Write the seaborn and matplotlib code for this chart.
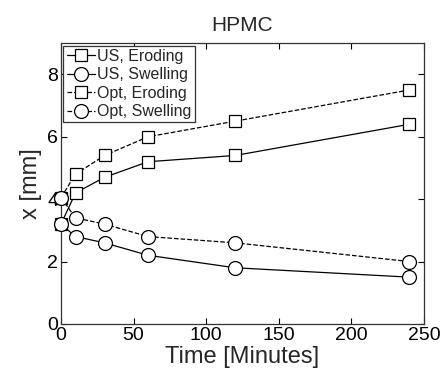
import matplotlib
matplotlib.use("Agg")
import matplotlib.pyplot as plt
import seaborn as sns

# data
time_min = [0, 10, 30, 60, 120, 240]
us_eroding = [3.2, 4.2, 4.7, 5.2, 5.4, 6.4]
us_swelling = [3.2, 2.8, 2.6, 2.2, 1.8, 1.5]
opt_eroding = [4.05, 4.8, 5.4, 6.0, 6.5, 7.5]
opt_swelling = [4.05, 3.4, 3.2, 2.8, 2.6, 2.0]

series = [
    ("US, Eroding", us_eroding, "s", "-"),
    ("US, Swelling", us_swelling, "o", "-"),
    ("Opt, Eroding", opt_eroding, "s", "--"),
    ("Opt, Swelling", opt_swelling, "o", "--"),
]

sns.set_style("ticks", {"xtick.direction": "in", "ytick.direction": "in"})
plt.rcParams["font.family"] = ["Liberation Sans", "DejaVu Sans"]

fig = plt.figure(figsize=(4.42, 3.82), dpi=100)
ax = fig.add_axes([0.138, 0.152, 0.821, 0.735])

for name, vals, mk, ls in series:
    sns.lineplot(x=time_min, y=vals, ax=ax, label=name, color="k",
                 marker=mk, linestyle=ls, linewidth=0.9,
                 markersize=9 if mk == "s" else 10,
                 markerfacecolor="white", markeredgecolor="k",
                 markeredgewidth=0.9, clip_on=False, zorder=3)

ax.set_xlim(0, 250)
ax.set_ylim(0, 9)
ax.set_xticks([0, 50, 100, 150, 200, 250])
ax.set_yticks([0, 2, 4, 6, 8])
ax.tick_params(top=True, right=True, labelsize=14, length=4, width=0.8,
               pad=2, colors="k")
for sp in ax.spines.values():
    sp.set_visible(True)
    sp.set_linewidth(0.9)
    sp.set_color("#333333")

ax.set_xlabel("Time [Minutes]", fontsize=17, labelpad=2)
ax.set_ylabel("x [mm]", fontsize=17, labelpad=4)
ax.set_title("HPMC", fontsize=15, pad=9)

leg = ax.legend(loc="upper left", fontsize=11.5, frameon=True, fancybox=False,
                framealpha=1, edgecolor="#333333", borderaxespad=0.15,
                handlelength=1.8, handletextpad=0.1, labelspacing=0.22,
                borderpad=0.2)
leg.get_frame().set_linewidth(0.9)

fig.savefig("out.png", dpi=100)
